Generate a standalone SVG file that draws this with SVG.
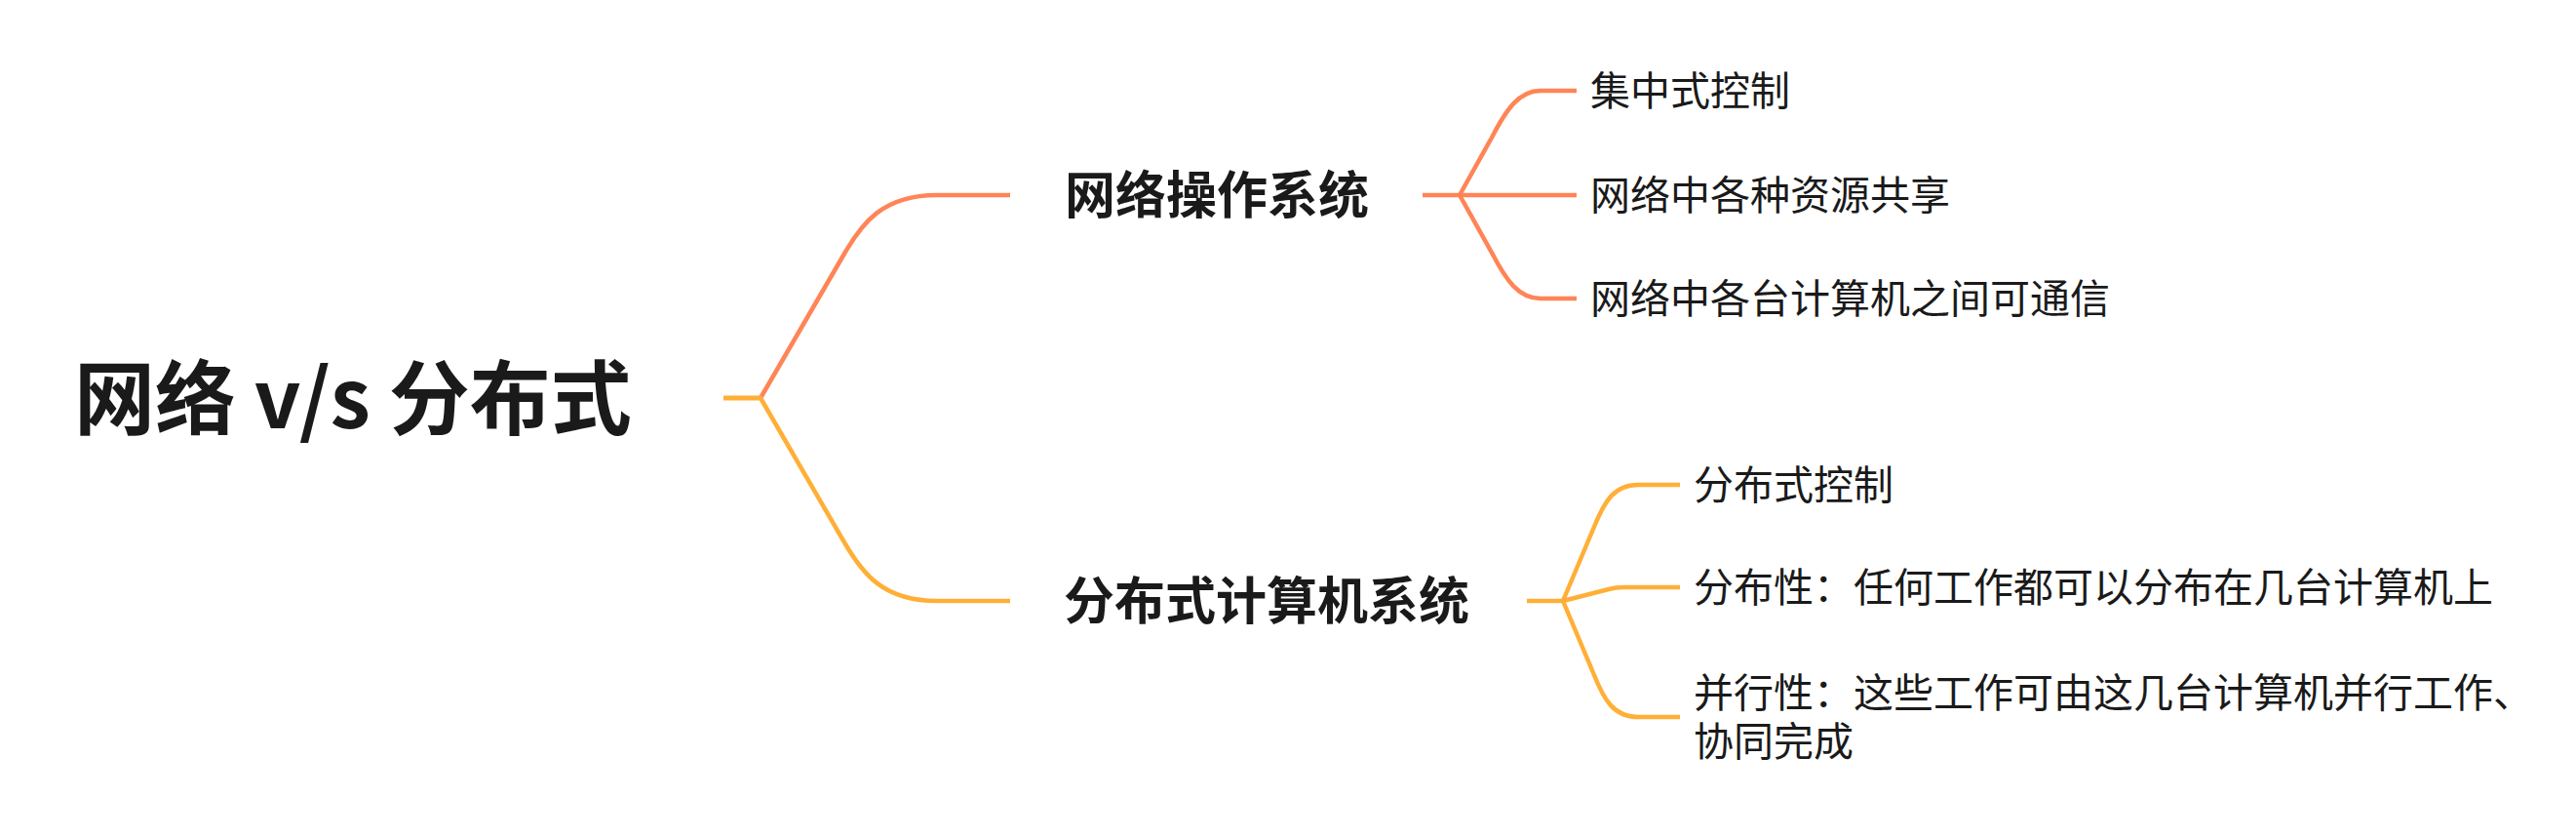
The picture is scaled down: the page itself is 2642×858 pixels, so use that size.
<svg xmlns="http://www.w3.org/2000/svg" width="2642" height="858" viewBox="0 0 2642 858">
<style>
.t{font-family:"Noto Sans CJK SC","Noto Sans",sans-serif;fill:#1a1a1a}
.root{font-size:83px;font-weight:700}
.main{font-size:52px;font-weight:700}
.sub{font-size:41px;font-weight:400}
.c1{fill:none;stroke:#FF8456;stroke-width:4.5;stroke-linecap:butt;stroke-linejoin:round}
.c2{fill:none;stroke:#FFAF37;stroke-width:4.5;stroke-linecap:butt;stroke-linejoin:round}
</style>
<rect width="2642" height="858" fill="#ffffff"/>
<g id="connectors">
<path class="c1" d="M780 408 L866 260 C884 229 905 200 961 200 L1036 200"/>
<path class="c2" d="M780 408 L866 556 C884 587 905 616 961 616 L1036 616"/>
<path class="c2" d="M742 408 L781 408" style="stroke-width:5"/>
<path class="c1" d="M1459 200 L1497 200"/>
<path class="c1" d="M1497 200 L1530 141 C1545 112 1558 93 1580 93 L1617 93"/>
<path class="c1" d="M1497 200 L1617 200"/>
<path class="c1" d="M1497 200 L1530 259 C1545 288 1558 306 1580 306 L1617 306"/>
<path class="c2" d="M1566 616 L1603 616"/>
<path class="c2" d="M1603 616 L1635 540 C1645 515 1655 497 1680 497 L1723 497"/>
<path class="c2" d="M1603 616 L1650 604 Q1657 602 1665 602 L1723 602"/>
<path class="c2" d="M1603 616 L1635 692 C1645 717 1655 735 1680 735 L1723 735"/>
</g>
<g id="root"><text class="t root" x="76" y="439">网络 v/s 分布式</text></g>
<g id="n1"><text class="t main" x="1092" y="219">网络操作系统</text></g>
<g id="n1a"><text class="t sub" x="1631" y="108">集中式控制</text></g>
<g id="n1b"><text class="t sub" x="1631" y="215">网络中各种资源共享</text></g>
<g id="n1c"><text class="t sub" x="1631" y="321">网络中各台计算机之间可通信</text></g>
<g id="n2"><text class="t main" x="1091" y="635">分布式计算机系统</text></g>
<g id="n2a"><text class="t sub" x="1737" y="512">分布式控制</text></g>
<g id="n2b"><text class="t sub" x="1737" y="617">分布性：任何工作都可以分布在几台计算机上</text></g>
<g id="n2c"><text class="t sub" x="1737" y="725">并行性：这些工作可由这几台计算机并行工作、<tspan x="1737" dy="50">协同完成</tspan></text></g>
</svg>
